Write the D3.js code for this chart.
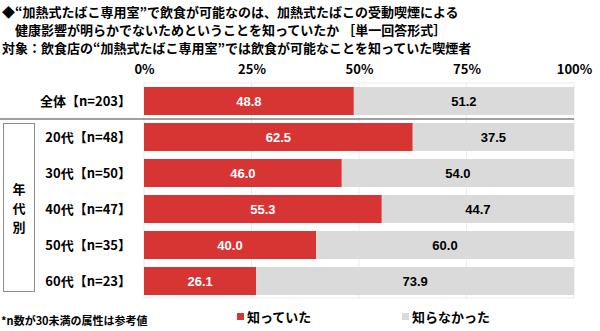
<!DOCTYPE html>
<html>
<head>
<meta charset="utf-8">
<script src="https://cdn.jsdelivr.net/npm/d3@7"></script>
<style>
  html, body { margin: 0; padding: 0; background: #fff; }
  svg { display: block; font-family: "Noto Sans CJK JP", "Noto Sans", sans-serif; }
</style>
</head>
<body>
<svg id="chart" width="600" height="331"></svg>
<script>
// Data
const categories = ["全体【n=203】", "20代【n=48】", "30代【n=50】", "40代【n=47】", "50代【n=35】", "60代【n=23】"];
const knew = [48.8, 62.5, 46.0, 55.3, 40.0, 26.1];
const didNotKnow = [51.2, 37.5, 54.0, 44.7, 60.0, 73.9];
const seriesNames = ["知っていた", "知らなかった"];
const tickValues = [0, 25, 50, 75, 100];
const titleLines = [
  "◆“加熱式たばこ専用室”で飲食が可能なのは、加熱式たばこの受動喫煙による",
  "　健康影響が明らかでないためということを知っていたか ［単一回答形式］",
  "対象：飲食店の“加熱式たばこ専用室”では飲食が可能なことを知っていた喫煙者"
];
const groupLabel = ["年", "代", "別"];
const footnote = "*n数が30未満の属性は参考値";

const colors = ["#d73434", "#dadada"];
const svg = d3.select("#chart");

// Title
svg.append("g").selectAll("text").data(titleLines).join("text")
  .attr("x", 2).attr("y", (d, i) => 17 + i * 18)
  .attr("font-size", 13).attr("font-weight", "bold").attr("fill", "#000")
  .text(d => d);

// Scales
const x = d3.scaleLinear().domain([0, 100]).range([144, 574]);
const rowCenters = [101, 137, 173, 209, 245, 281];
const y = d3.scaleOrdinal().domain(categories).range(rowCenters);
const barH = 28;
const plotTop = 83, plotBottom = 298;

// Plot frame and gridlines
svg.append("rect").attr("x", x(0)).attr("y", plotTop)
  .attr("width", x(100) - x(0)).attr("height", plotBottom - plotTop)
  .attr("fill", "none").attr("stroke", "#ececec");
svg.append("g").selectAll("line").data(tickValues.slice(1, -1)).join("line")
  .attr("x1", d => x(d)).attr("x2", d => x(d))
  .attr("y1", plotTop).attr("y2", plotBottom)
  .attr("stroke", "#ececec");

// Top axis labels
const axis = d3.axisTop(x).tickValues(tickValues).tickFormat(d => d + "%").tickSize(0).tickPadding(0);
const axisG = svg.append("g").attr("transform", "translate(0,74)").call(axis);
axisG.select(".domain").remove();
axisG.selectAll("text").attr("font-size", 13).attr("font-weight", "bold")
  .attr("fill", "#000").attr("font-family", "'Noto Sans CJK JP', sans-serif");

// Stacked bars
const rows = categories.map((c, i) => ({ cat: c, vals: [knew[i], didNotKnow[i]] }));
const segs = [];
rows.forEach(r => {
  let acc = 0;
  r.vals.forEach((v, k) => { segs.push({ cat: r.cat, k, x0: acc, x1: acc + v, v }); acc += v; });
});
svg.append("g").selectAll("rect").data(segs).join("rect")
  .attr("x", d => x(d.x0)).attr("width", d => x(d.x1) - x(d.x0))
  .attr("y", d => y(d.cat) - barH / 2).attr("height", barH)
  .attr("fill", d => colors[d.k]);

// Value labels
svg.append("g").selectAll("text").data(segs).join("text")
  .attr("x", d => (x(d.x0) + x(d.x1)) / 2).attr("y", d => y(d.cat) + 5)
  .attr("text-anchor", "middle").attr("font-size", 13).attr("font-weight", "bold")
  .attr("font-family", "'Liberation Sans', Arial, sans-serif")
  .attr("fill", d => d.k === 0 ? "#fff" : "#000")
  .text(d => d.v.toFixed(1));

// Category labels
svg.append("g").selectAll("text").data(categories).join("text")
  .attr("x", 131).attr("y", d => y(d) + 5)
  .attr("text-anchor", "end").attr("font-size", 13).attr("font-weight", "bold")
  .attr("fill", "#000").text(d => d);

// Separator between total and age groups
svg.append("line").attr("x1", 0).attr("x2", x(100)).attr("y1", 119).attr("y2", 119)
  .attr("stroke", "#7f7f7f").attr("stroke-width", 1.5);

// Group box
svg.append("rect").attr("x", 3.5).attr("y", 123.5).attr("width", 31).attr("height", 168)
  .attr("fill", "none").attr("stroke", "#8c8c8c");
svg.append("g").selectAll("text").data(groupLabel).join("text")
  .attr("x", 19).attr("y", (d, i) => 194 + i * 19)
  .attr("text-anchor", "middle").attr("font-size", 13).attr("font-weight", "bold")
  .text(d => d);

// Legend
const legendX = [237, 402];
const lg = svg.append("g").selectAll("g").data(seriesNames).join("g")
  .attr("transform", (d, i) => `translate(${legendX[i]},317)`);
lg.append("rect").attr("x", 0).attr("y", -4).attr("width", 7).attr("height", 7)
  .attr("fill", (d, i) => colors[i]);
lg.append("text").attr("x", 10).attr("y", 5).attr("font-size", 13).attr("font-weight", "bold")
  .text(d => d);

// Footnote
svg.append("text").attr("x", 1).attr("y", 325).attr("font-size", 11).attr("font-weight", "bold")
  .text(footnote);
</script>
</body>
</html>
